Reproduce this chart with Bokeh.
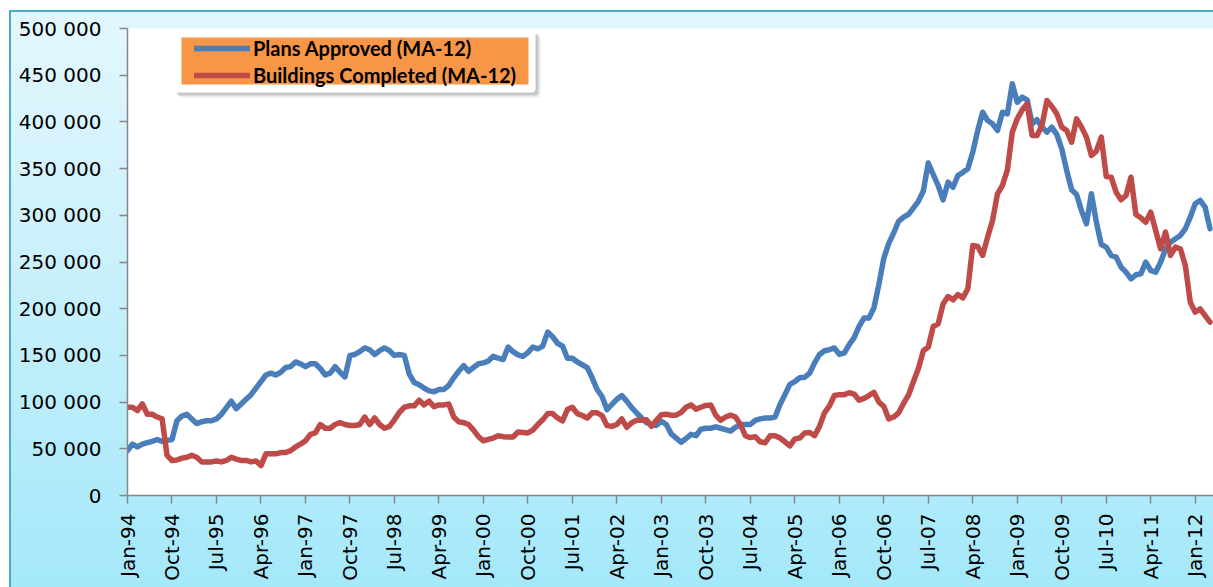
import math
import numpy as np
from bokeh.plotting import figure
from bokeh.models import (ColumnDataSource, FixedTicker, Legend, LegendItem,
                          BoxAnnotation, Range1d)
from bokeh.embed import file_html
from bokeh.resources import INLINE

# ---------------- data (monthly, Jan-94 .. Apr-12, thousands of units) ----------------
x_tick_labels = ["Jan-94", "Oct-94", "Jul-95", "Apr-96", "Jan-97", "Oct-97", "Jul-98",
                 "Apr-99", "Jan-00", "Oct-00", "Jul-01", "Apr-02", "Jan-03", "Oct-03",
                 "Jul-04", "Apr-05", "Jan-06", "Oct-06", "Jul-07", "Apr-08", "Jan-09",
                 "Oct-09", "Jul-10", "Apr-11", "Jan-12"]
x_tick_months = [0, 9, 18, 27, 36, 45, 54, 63, 72, 81, 90, 99, 108, 117, 126, 135,
                 144, 153, 162, 171, 180, 189, 198, 207, 216]

y_ticks = [0, 50000, 100000, 150000, 200000, 250000, 300000, 350000, 400000, 450000, 500000]
y_tick_labels = ["0", "50 000", "100 000", "150 000", "200 000", "250 000", "300 000",
                 "350 000", "400 000", "450 000", "500 000"]

series_names = ["Plans Approved (MA-12)", "Buildings Completed (MA-12)"]

plans_approved_k = [
    48, 55, 52, 55, 56.5, 58, 60, 58, 59, 60,
    80, 85, 87, 82, 77, 79, 80, 80, 82, 87,
    94, 101, 93, 98, 103, 108, 115, 122, 129, 131,
    129, 132, 137, 138, 143, 141, 138, 141, 141, 136,
    129, 131, 138, 132, 127, 150, 151, 154, 158, 156,
    151, 155, 158, 155, 150, 151, 150, 130, 121, 118.6,
    115, 112, 111, 113.5, 113.5, 118, 126, 133, 139, 133,
    137, 141, 142, 144, 149, 147, 145.6, 159, 154, 150.6,
    149, 153, 159, 157, 160, 175, 170, 163, 160, 147,
    147, 143, 140, 137, 126, 113.5, 106, 92, 97.5, 103,
    107, 101, 94, 88.5, 83, 78, 76, 75, 79.5, 76,
    66, 61.5, 57, 61, 65.5, 64, 71, 72, 72, 73.5,
    72, 70.6, 69, 73, 76, 76, 76, 80.5, 82, 83,
    83, 84, 97.5, 108, 119, 122, 126, 126.6, 131, 142,
    151, 155, 156, 158, 151, 152.6, 161.5, 169, 181, 190,
    190, 200.8, 225.8, 254, 270, 281, 293.6, 298, 301, 308,
    315, 326, 356, 343.7, 331.9, 316.6, 335.5, 330, 342.6, 346,
    349.8, 367.6, 390.8, 410.4, 401.5, 398, 390.8, 410.4, 408.6, 440.8,
    421, 426.5, 423.6, 398, 402.3, 394.4, 389, 394.4, 386.5, 371.2,
    348, 327.3, 322.3, 305, 290.9, 323, 292.7, 268.7, 265.9, 257,
    255.2, 244.5, 239.1, 232, 236.3, 237.3, 249.8, 240.9, 239.1, 249.8,
    264.1, 271.2, 274.8, 278.4, 285.6, 298, 312.3, 315.9, 308.7, 285.6,
]

buildings_completed_k = [
    94.5, 94.5, 91, 98, 87, 87, 84, 82, 43, 37.5,
    38, 40, 41, 43, 41, 36, 36, 36, 37, 36,
    37.5, 41, 39, 37.5, 37.5, 36, 37, 32, 44.6, 44.6,
    44.6, 46, 46, 48, 52, 55, 58.5, 65.5, 67, 76,
    72, 72, 76, 78, 76, 75, 75, 76, 84, 76,
    83, 76, 72, 74, 81, 89, 94.5, 96, 96, 102,
    97, 101, 95, 97, 97, 98, 84, 79, 78, 76,
    70, 63, 58.6, 60, 61.5, 64, 63, 62.6, 62.6, 68,
    67.5, 67, 70, 76, 81, 87.7, 87.7, 83, 80, 92,
    94.5, 87.7, 85.6, 83, 88.5, 88.5, 85.6, 75, 74, 76,
    82, 73, 78, 80.5, 80.5, 81, 74, 80.5, 86.5, 87,
    86, 86, 89, 94.5, 97, 92.5, 94.5, 96.5, 97, 86,
    80.5, 84, 86, 84, 76, 64, 62, 63, 57.5, 56.5,
    64, 64, 61.5, 57.5, 53, 60.6, 61.5, 67, 67.5, 64,
    74, 88.5, 96, 107, 108, 108, 110, 108.6, 102, 104,
    107, 110.5, 100, 95.5, 82, 84, 88.5, 98.6, 107.6, 122,
    136, 155, 159, 181, 183.8, 205.2, 213, 209.5, 215.2, 211.6,
    221.3, 267.7, 266.6, 257, 276.6, 294.4, 323, 331.9, 348.7, 389,
    403.3, 412.9, 419.4, 385.5, 385.5, 396.2, 422.9, 416.5, 408.6, 394.4,
    390.8, 378.3, 403.3, 394.4, 383.7, 364, 368.7, 383.7, 341.6, 340.8,
    324.8, 316.6, 321.2, 340.8, 300.9, 297.3, 292.7, 303.4, 283.7, 264.1,
    282, 257, 265.9, 264.1, 246.3, 207, 196.3, 199.9, 192.7, 185.6,
]

# ---------------- styling constants ----------------
BLUE = "#4a7ebb"
RED = "#be4b48"
ORANGE = "#f79646"
AXIS = "#868686"
TEAL = "#4bacc6"
TICK_FONT = "DejaVu Sans"

FIG_W, FIG_H = 1213, 587
LEFT, TOP, BOTTOM = 127, 28, 92
X_END = 219.7
Y_END = 500000

months = np.arange(len(plans_approved_k))
src = ColumnDataSource(dict(
    m=months,
    plans=np.array(plans_approved_k) * 1000,
    built=np.array(buildings_completed_k) * 1000,
))

p = figure(width=FIG_W, height=FIG_H, output_backend="svg", toolbar_location=None,
           x_range=Range1d(0, X_END), y_range=Range1d(0, Y_END),
           min_border_left=LEFT, min_border_top=TOP, min_border_right=0,
           min_border_bottom=BOTTOM)
p.background_fill_color = "white"
p.border_fill_alpha = 0
p.outline_line_color = None
p.grid.visible = False
p.styles = {
    "background": (
        f"linear-gradient({TEAL},{TEAL}) 9px 10px / 100% 2px no-repeat, "
        f"linear-gradient({TEAL},{TEAL}) 9px 10px / 2px 100% no-repeat, "
        "linear-gradient(180deg, #e3f7fd 0%, #c9f0fb 45%, #a3e8fa 100%) 9px 10px / 100% 100% no-repeat, "
        "white"
    ),
}

r_plans = p.line("m", "plans", source=src, line_width=5.5, line_color=BLUE,
                 line_join="round", line_cap="round")
r_built = p.line("m", "built", source=src, line_width=5.5, line_color=RED,
                 line_join="round", line_cap="round")

# axes
xa = p.xaxis[0]
xa.ticker = FixedTicker(ticks=x_tick_months)
xa.major_label_overrides = {m: lab for m, lab in zip(x_tick_months, x_tick_labels)}
xa.major_label_orientation = math.pi / 2
ya = p.yaxis[0]
ya.ticker = FixedTicker(ticks=y_ticks)
ya.major_label_overrides = {v: lab for v, lab in zip(y_ticks, y_tick_labels)}
for ax in (xa, ya):
    ax.axis_line_color = AXIS
    ax.axis_line_width = 1.5
    ax.major_tick_line_color = AXIS
    ax.major_tick_line_width = 1.5
    ax.major_tick_out = 8
    ax.major_tick_in = 0
    ax.minor_tick_line_color = None
    ax.major_label_text_font = TICK_FONT
    ax.major_label_text_font_size = "20px"
    ax.major_label_text_color = "black"
xa.major_label_standoff = 10
ya.major_label_standoff = 18

# legend frame (white box with shadow, orange panel) in screen pixels -> data
frame_w = FIG_W - LEFT
frame_h = FIG_H - TOP - BOTTOM


def px_x(px):  # page x -> month
    return (px - LEFT) / frame_w * X_END


def px_y(py):  # page y -> value
    return (FIG_H - BOTTOM - py) / frame_h * Y_END


for off, alpha in ((5, 0.10), (3, 0.22)):
    p.add_layout(BoxAnnotation(left=px_x(173 + off), right=px_x(535 + off),
                               top=px_y(30 + off), bottom=px_y(92 + off),
                               fill_color="#404040", fill_alpha=alpha, line_color=None,
                               border_radius=4))
p.add_layout(BoxAnnotation(left=px_x(173), right=px_x(535), top=px_y(30), bottom=px_y(92),
                           fill_color="white", fill_alpha=1, line_color=None,
                           border_radius=4))
p.add_layout(BoxAnnotation(left=px_x(181), right=px_x(528), top=px_y(37), bottom=px_y(84),
                           fill_color=ORANGE, fill_alpha=1, line_color=None))

legend = Legend(
    items=[LegendItem(label=series_names[0], renderers=[r_plans]),
           LegendItem(label=series_names[1], renderers=[r_built])],
    location=(194 - LEFT, frame_h - (87 - TOP)),
    orientation="vertical",
    background_fill_alpha=0, border_line_color=None,
    label_text_font="Lato", label_text_font_style="bold",
    label_text_font_size="20px", label_text_color="#000000",
    glyph_width=56, glyph_height=22, label_height=22, label_standoff=3,
    spacing=3, padding=0, margin=0,
)
p.add_layout(legend)

open("out.html", "w").write(file_html(p, INLINE))
